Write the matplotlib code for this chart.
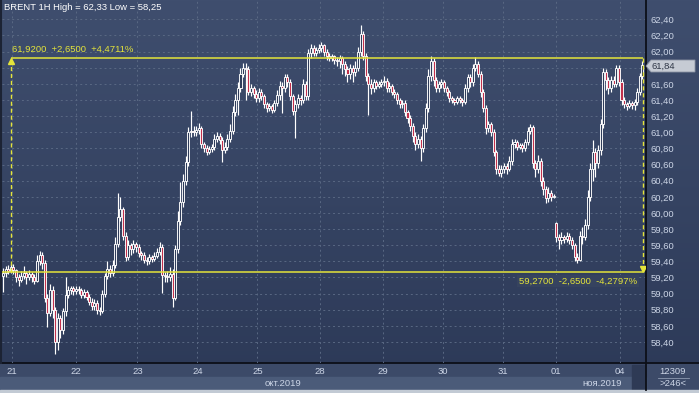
import matplotlib
matplotlib.use("Agg")
import matplotlib.pyplot as plt
import numpy as np
from matplotlib.colors import LinearSegmentedColormap
from matplotlib.patches import Rectangle, Polygon

plt.rcParams['font.family'] = ['Liberation Sans', 'DejaVu Sans']

# BRENT 1H candles, 18 Oct 2019 late session .. 04 Nov 2019
opens = [
59.22, 59.25, 59.30, 59.28, 59.33, 59.29, 59.20, 59.17, 59.22, 59.25,
59.21, 59.24, 59.20, 59.16, 59.40, 59.48, 59.38, 58.95, 58.76, 59.05,
58.80, 58.40, 58.70, 58.55, 58.78, 58.98, 59.05, 59.07, 59.03, 59.06,
59.04, 58.98, 59.02, 58.96, 58.90, 58.85, 58.88, 58.80, 58.78, 59.00,
59.22, 59.30, 59.26, 59.35, 59.62, 59.95, 60.05, 59.72, 59.45, 59.60,
59.55, 59.62, 59.58, 59.50, 59.48, 59.42, 59.40, 59.45, 59.43, 59.47,
59.52, 59.58, 59.23, 59.22, 59.20, 59.24, 58.95, 59.55, 59.90, 60.14,
60.40, 60.63, 61.00, 61.02, 61.00, 61.03, 61.05, 60.85, 60.80, 60.76,
60.79, 60.82, 60.92, 60.96, 60.90, 60.78, 60.82, 60.92, 61.02, 61.25,
61.40, 61.55, 61.72, 61.80, 61.78, 61.50, 61.55, 61.48, 61.42, 61.50,
61.45, 61.35, 61.30, 61.32, 61.28, 61.36, 61.46, 61.58, 61.55, 61.68,
61.62, 61.45, 61.27, 61.35, 61.42, 61.40, 61.60, 61.45, 61.98, 62.05,
61.98, 62.02, 62.05, 62.08, 62.00, 61.95, 61.92, 61.94, 61.90, 61.88,
61.92, 61.85, 61.78, 61.72, 61.80, 61.75, 61.80, 62.00, 62.22, 61.95,
61.70, 61.60, 61.55, 61.62, 61.58, 61.60, 61.62, 61.64, 61.55, 61.58,
61.50, 61.47, 61.40, 61.35, 61.36, 61.25, 61.18, 61.08, 60.95, 60.85,
60.92, 60.80, 61.05, 61.30, 61.70, 61.88, 61.65, 61.55, 61.60, 61.62,
61.55, 61.50, 61.42, 61.40, 61.38, 61.42, 61.40, 61.38, 61.55, 61.68,
61.62, 61.80, 61.85, 61.72, 61.50, 61.30, 61.05, 61.10, 61.00, 60.75,
60.55, 60.50, 60.55, 60.58, 60.55, 60.65, 60.85, 60.88, 60.82, 60.84,
60.80, 60.88, 61.02, 61.06, 60.62, 60.55, 60.65, 60.40, 60.30, 60.18,
60.25, 60.20, 59.88, 59.70, 59.66, 59.70, 59.68, 59.72, 59.67, 59.60,
59.45, 59.42, 59.72, 59.70, 59.85, 60.20, 60.55, 60.75, 60.62, 60.78,
61.10, 61.75, 61.65, 61.55, 61.65, 61.60, 61.80, 61.62, 61.40, 61.35,
61.33, 61.36, 61.34, 61.37, 61.50, 61.70,
]
highs = [
59.32, 59.34, 59.35, 59.37, 59.37, 59.31, 59.24, 59.28, 59.34, 59.28,
59.29, 59.27, 59.24, 59.48, 59.53, 59.52, 59.42, 59.00, 59.12, 59.10,
58.84, 58.76, 58.74, 58.82, 59.21, 59.10, 59.10, 59.10, 59.10, 59.09,
59.07, 59.06, 59.05, 58.99, 58.94, 58.93, 58.92, 58.84, 59.05, 59.26,
59.40, 59.36, 59.42, 59.70, 60.25, 60.20, 60.08, 59.76, 59.66, 59.63,
59.66, 59.64, 59.61, 59.53, 59.51, 59.46, 59.49, 59.48, 59.51, 59.57,
59.64, 59.62, 59.27, 59.28, 59.33, 59.30, 59.60, 60.02, 60.38, 60.48,
60.70, 61.06, 61.27, 61.08, 61.08, 61.12, 61.08, 60.88, 60.84, 60.83,
60.86, 60.98, 61.00, 60.99, 60.94, 60.88, 60.98, 61.10, 61.32, 61.48,
61.62, 61.80, 61.86, 61.86, 61.82, 61.60, 61.58, 61.52, 61.55, 61.54,
61.48, 61.38, 61.36, 61.35, 61.40, 61.52, 61.64, 61.62, 61.72, 61.72,
61.66, 61.48, 61.40, 61.48, 61.46, 61.66, 61.64, 62.03, 62.10, 62.08,
62.06, 62.10, 62.12, 62.10, 62.03, 61.98, 61.97, 61.96, 61.93, 61.96,
61.95, 61.88, 61.82, 61.85, 61.84, 61.88, 62.06, 62.33, 62.25, 61.98,
61.74, 61.66, 61.66, 61.65, 61.63, 61.66, 61.70, 61.67, 61.62, 61.60,
61.54, 61.50, 61.43, 61.40, 61.40, 61.28, 61.22, 61.12, 61.00, 60.98,
60.96, 61.10, 61.36, 61.78, 61.95, 61.92, 61.68, 61.64, 61.66, 61.65,
61.58, 61.53, 61.45, 61.43, 61.45, 61.45, 61.43, 61.60, 61.72, 61.72,
61.85, 61.93, 61.88, 61.76, 61.54, 61.34, 61.14, 61.13, 61.04, 60.78,
60.60, 60.60, 60.62, 60.62, 60.70, 60.92, 60.92, 60.90, 60.87, 60.87,
60.92, 61.07, 61.10, 61.09, 60.66, 60.72, 60.68, 60.44, 60.34, 60.32,
60.28, 60.24, 59.89, 59.74, 59.76, 59.73, 59.77, 59.75, 59.70, 59.63,
59.50, 59.78, 59.82, 59.92, 60.28, 60.62, 60.90, 60.80, 60.84, 61.16,
61.80, 61.79, 61.68, 61.70, 61.70, 61.84, 61.84, 61.66, 61.44, 61.38,
61.40, 61.39, 61.41, 61.55, 61.74, 61.88,
]
lows = [
59.02, 59.20, 59.24, 59.25, 59.24, 59.15, 59.10, 59.14, 59.18, 59.12,
59.17, 59.15, 59.12, 59.14, 59.36, 59.30, 58.90, 58.59, 58.72, 58.70,
58.25, 58.30, 58.45, 58.50, 58.72, 58.94, 59.00, 58.98, 58.99, 59.00,
58.94, 58.95, 58.92, 58.86, 58.80, 58.80, 58.75, 58.74, 58.76, 58.96,
59.18, 59.20, 59.22, 59.32, 59.58, 59.90, 59.66, 59.40, 59.42, 59.48,
59.50, 59.52, 59.46, 59.42, 59.38, 59.36, 59.37, 59.39, 59.40, 59.44,
59.48, 59.01, 59.15, 59.14, 59.16, 58.84, 58.92, 59.50, 59.85, 60.08,
60.35, 60.58, 60.94, 60.95, 60.96, 60.98, 60.80, 60.75, 60.72, 60.73,
60.75, 60.78, 60.88, 60.85, 60.63, 60.74, 60.78, 60.88, 60.98, 61.20,
61.22, 61.50, 61.68, 61.40, 61.46, 61.45, 61.42, 61.38, 61.38, 61.40,
61.30, 61.25, 61.26, 61.24, 61.25, 61.32, 61.40, 61.24, 61.50, 61.56,
61.40, 61.22, 60.93, 61.30, 61.34, 61.36, 61.40, 61.40, 61.92, 61.94,
61.95, 61.98, 62.00, 61.94, 61.90, 61.88, 61.88, 61.85, 61.82, 61.80,
61.72, 61.70, 61.62, 61.66, 61.62, 61.70, 61.76, 61.95, 61.90, 61.64,
61.21, 61.48, 61.50, 61.54, 61.55, 61.56, 61.58, 61.50, 61.50, 61.46,
61.42, 61.35, 61.30, 61.30, 61.20, 61.12, 61.02, 60.88, 60.78, 60.80,
60.65, 60.76, 61.00, 61.25, 61.64, 61.58, 61.50, 61.50, 61.55, 61.50,
61.45, 61.38, 61.36, 61.34, 61.35, 61.36, 61.32, 61.35, 61.50, 61.56,
61.58, 61.76, 61.68, 61.44, 61.25, 60.98, 61.00, 60.95, 60.70, 60.48,
60.46, 60.45, 60.50, 60.48, 60.52, 60.60, 60.80, 60.78, 60.79, 60.76,
60.77, 60.84, 60.98, 60.56, 60.44, 60.50, 60.34, 60.22, 60.12, 60.14,
60.15, 60.18, 59.64, 59.55, 59.62, 59.63, 59.64, 59.62, 59.55, 59.40,
59.38, 59.40, 59.62, 59.66, 59.80, 60.15, 60.40, 60.45, 60.56, 60.72,
61.05, 61.52, 61.48, 61.50, 61.56, 61.56, 61.58, 61.34, 61.30, 61.28,
61.30, 61.29, 61.28, 61.34, 61.46, 61.66,
]
closes = [
59.25, 59.30, 59.28, 59.33, 59.29, 59.20, 59.17, 59.22, 59.25, 59.21,
59.24, 59.20, 59.16, 59.40, 59.48, 59.38, 58.95, 58.76, 59.05, 58.80,
58.40, 58.70, 58.55, 58.78, 58.98, 59.05, 59.07, 59.03, 59.06, 59.04,
58.98, 59.02, 58.96, 58.90, 58.85, 58.88, 58.80, 58.78, 59.00, 59.22,
59.30, 59.26, 59.35, 59.62, 59.95, 60.05, 59.72, 59.45, 59.60, 59.55,
59.62, 59.58, 59.50, 59.48, 59.42, 59.40, 59.45, 59.43, 59.47, 59.52,
59.58, 59.23, 59.22, 59.20, 59.24, 58.95, 59.55, 59.90, 60.14, 60.40,
60.63, 61.00, 61.02, 61.00, 61.03, 61.05, 60.85, 60.80, 60.76, 60.79,
60.82, 60.92, 60.96, 60.90, 60.78, 60.82, 60.92, 61.02, 61.25, 61.40,
61.55, 61.72, 61.80, 61.78, 61.50, 61.55, 61.48, 61.42, 61.50, 61.45,
61.35, 61.30, 61.32, 61.28, 61.36, 61.46, 61.58, 61.55, 61.68, 61.62,
61.45, 61.27, 61.35, 61.42, 61.40, 61.60, 61.45, 61.98, 62.05, 61.98,
62.02, 62.05, 62.08, 62.00, 61.95, 61.92, 61.94, 61.90, 61.88, 61.92,
61.85, 61.78, 61.72, 61.80, 61.75, 61.80, 62.00, 62.22, 61.95, 61.70,
61.60, 61.55, 61.62, 61.58, 61.60, 61.62, 61.64, 61.55, 61.58, 61.50,
61.47, 61.40, 61.35, 61.36, 61.25, 61.18, 61.08, 60.95, 60.85, 60.92,
60.80, 61.05, 61.30, 61.70, 61.88, 61.65, 61.55, 61.60, 61.62, 61.55,
61.50, 61.42, 61.40, 61.38, 61.42, 61.40, 61.38, 61.55, 61.68, 61.62,
61.80, 61.85, 61.72, 61.50, 61.30, 61.05, 61.10, 61.00, 60.75, 60.55,
60.50, 60.55, 60.58, 60.55, 60.65, 60.85, 60.88, 60.82, 60.84, 60.80,
60.88, 61.02, 61.06, 60.62, 60.55, 60.65, 60.40, 60.30, 60.18, 60.25,
60.20, 60.21, 59.70, 59.66, 59.70, 59.68, 59.72, 59.67, 59.60, 59.45,
59.42, 59.72, 59.70, 59.85, 60.20, 60.55, 60.75, 60.62, 60.78, 61.10,
61.75, 61.65, 61.55, 61.65, 61.60, 61.80, 61.62, 61.40, 61.35, 61.33,
61.36, 61.34, 61.37, 61.50, 61.70, 61.84,
]

# first bar of each day and its label
day_start = [3.5, 28, 51.5, 74.5, 97.5, 121.5, 145.5, 168.5, 191.5, 212, 236.5]
day_labels = ['21', '22', '23', '24', '25', '28', '29', '30', '31', '01', '04']

y_ticks = [58.4, 58.6, 58.8, 59.0, 59.2, 59.4, 59.6, 59.8, 60.0, 60.2, 60.4,
           60.6, 60.8, 61.0, 61.2, 61.4, 61.6, 61.8, 62.0, 62.2, 62.4]

range_high = 61.92
range_low = 59.27
last_price = 61.84

W, H = 699, 393
fig = plt.figure(figsize=(W / 100, H / 100), dpi=100)


def fx(x):
    return x / W


def fy(y):
    return 1 - y / H


txt = '#ccd5e6'
yel = '#e4e43a'
fs = 6.8

# navy gradient background
bg = fig.add_axes([0, 0, 1, 1], zorder=0)
cmap = LinearSegmentedColormap.from_list('bg', ['#3f4e6e', '#2c3957'])
bg.imshow(np.linspace(0, 1, 256)[:, None], aspect='auto', cmap=cmap,
          extent=(0, 1, 0, 1))
bg.set_xlim(0, 1)
bg.set_ylim(0, 1)
bg.axis('off')

# bottom strips
bg.add_patch(Rectangle((0, 0), 1, fy(363), color='#3c4a68', zorder=2))
bg.add_patch(Rectangle((0, fy(390)), fx(646), fy(377) - fy(390),
                       color='#4b5b79', zorder=3))
bg.add_patch(Rectangle((fx(632), fy(390)), fx(645) - fx(632), fy(365) - fy(390),
                       color='#2e3a55', zorder=4))
bg.add_patch(Rectangle((0, 0), 1, fy(390), color='#c2cad4', zorder=5))
bg.plot([0, 1], [fy(363), fy(363)], color='#0c0f18', lw=1.3, zorder=6)
bg.plot([fx(646), fx(646)], [fy(390), 1], color='#0c0f18', lw=1.3, zorder=6)
bg.plot([fx(1), fx(1)], [fy(363), 1], color='#1c2334', lw=1.5, zorder=6)
bg.plot([fx(658), fx(689)], [fy(377.5), fy(377.5)], color='#8d99b0', lw=0.6, zorder=6)

ax = fig.add_axes([fx(2), fy(363), fx(645) - fx(2), fy(0) - fy(363)], zorder=1)
ax.patch.set_alpha(0)
ax.set_xlim(-0.38, 246.0)
ax.set_ylim(58.14, 62.64)
for s in ax.spines.values():
    s.set_visible(False)

# the 61,80 label sits under the last-price tag, so it is left blank
ylabels = []
for v in y_ticks:
    lab = ('%.2f' % v).replace('.', ',')
    if abs(v - last_price) < 0.1:
        lab = ''
    ylabels.append(lab)
ax.set_yticks(y_ticks)
ax.set_yticklabels(ylabels)
ax.yaxis.tick_right()
ax.set_xticks(day_start)
ax.set_xticklabels(day_labels)
ax.tick_params(axis='y', length=0, pad=4, labelcolor=txt, labelsize=fs)
ax.tick_params(axis='x', length=0, pad=3.2, labelcolor=txt, labelsize=fs)
ax.grid(True, color='#596883', lw=0.7, ls=(0, (2, 3)))
ax.set_axisbelow(True)

# candles
idx = np.arange(len(closes))
o = np.array(opens)
c = np.array(closes)
ax.vlines(idx, lows, highs, color='white', lw=0.85, zorder=2)
bear = c < o
body_lo = np.minimum(o, c)
body_h = np.maximum(np.abs(c - o), 0.012)
face = np.where(bear, '#c2304c', '#2f3c5a')
ax.bar(idx, body_h, bottom=body_lo, width=0.78, color=face,
       edgecolor='white', linewidth=0.65, zorder=3)

# range box
x_left = 3.07
x_right = 245.2
ax.hlines(range_high, x_left, x_right, color=yel, lw=1.1, zorder=4)
ax.hlines(range_low, -0.38, x_right, color=yel, lw=1.1, zorder=4)
ax.plot([x_left, x_left], [range_low, range_high], color=yel, lw=1,
        ls=(0, (3, 2)), zorder=4)
ax.plot([x_right, x_right], [range_high, range_low], color=yel, lw=1,
        ls=(0, (3, 2)), zorder=4)
ax.plot([x_left], [range_high - 0.04], marker='^', ms=4, color=yel, zorder=5)
ax.plot([x_right], [range_low + 0.04], marker='v', ms=4, color=yel, zorder=5)

fig.text(fx(12), fy(49), '61,9200  +2,6500  +4,4711%', color=yel, fontsize=fs,
         va='center', zorder=10)
fig.text(fx(637), fy(281), '59,2700  -2,6500  -4,2797%', color=yel, fontsize=fs,
         ha='right', va='center', zorder=10,
         bbox=dict(facecolor='#36435f', edgecolor='none', pad=1.2))

fig.text(fx(4), fy(8), 'BRENT 1H High = 62,33 Low = 58,25', color='white',
         fontsize=fs, va='center', zorder=10)

# last price tag
ov = fig.add_axes([0, 0, 1, 1], zorder=5)
ov.set_xlim(0, W)
ov.set_ylim(H, 0)
ov.axis('off')
ov.add_patch(Polygon([(646, 66), (651, 60), (695, 60), (695, 72), (651, 72)],
                     closed=True, facecolor='#c6cbd4', edgecolor='#8b93a3', lw=0.6))
ov.text(652, 66.5, ('%.2f' % last_price).replace('.', ','), color='#2f3747',
        fontsize=fs, va='center')

ov.text(283, 383, 'окт.2019', color=txt, fontsize=fs, ha='center', va='center')
ov.text(602, 383, 'ноя.2019', color=txt, fontsize=fs, ha='center', va='center')
ov.text(673, 371, '12309', color=txt, fontsize=fs, ha='center', va='center')
ov.text(673, 384, '>246<', color=txt, fontsize=fs, ha='center', va='center')

fig.savefig('out.png', dpi=100)
